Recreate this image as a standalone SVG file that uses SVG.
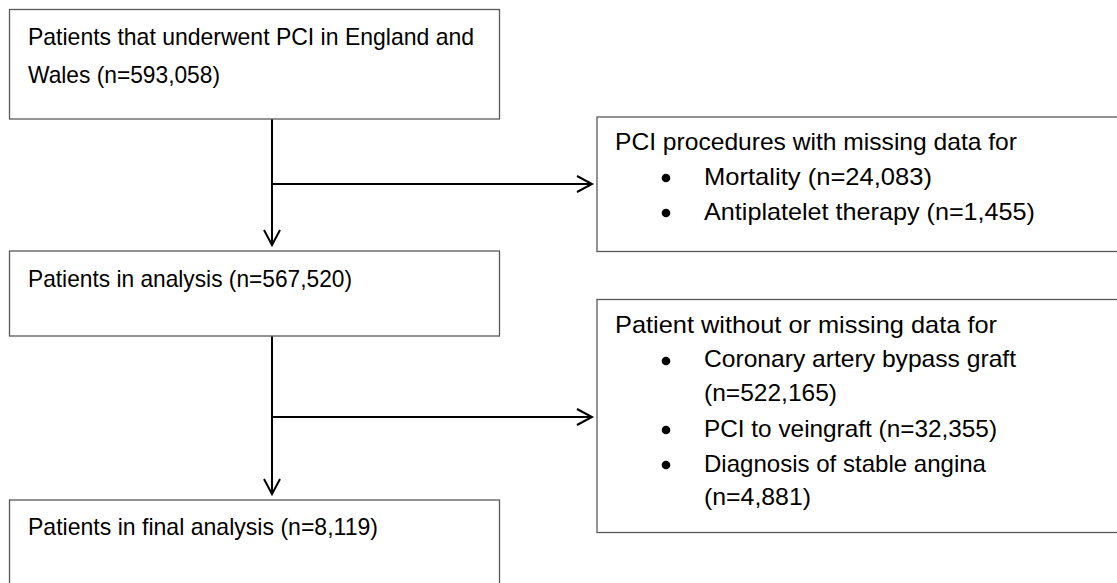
<svg xmlns="http://www.w3.org/2000/svg" width="1117" height="583" viewBox="0 0 1117 583">
<style>
.box{fill:#fff;stroke:#595959;stroke-width:1.3}
.t{font-family:"Liberation Sans",Arial,sans-serif;font-size:24px;fill:#000}
.ln{fill:none;stroke:#000;stroke-width:2}
.bul{fill:#000}
</style>
<defs>
<marker id="ah" markerUnits="userSpaceOnUse" markerWidth="20" markerHeight="20" viewBox="-17 -10 20 20" refX="0" refY="0" orient="auto">
<path d="M-15,-8 L0,0 L-15,8" fill="none" stroke="#000" stroke-width="2"/>
</marker>
</defs>
<rect width="1117" height="583" fill="#fff"/>
<g id="connectors">
<path class="ln" d="M272,119 V245" marker-end="url(#ah)"/>
<path class="ln" d="M272,184 H592" marker-end="url(#ah)"/>
<path class="ln" d="M272,336 V494" marker-end="url(#ah)"/>
<path class="ln" d="M272,417 H592" marker-end="url(#ah)"/>
</g>
<g id="n1">
<rect class="box" x="9.5" y="9.5" width="490" height="109.5"/>
<text class="t" x="28" y="45" textLength="446" lengthAdjust="spacingAndGlyphs">Patients that underwent PCI in England and</text>
<text class="t" x="28" y="83" textLength="192" lengthAdjust="spacingAndGlyphs">Wales (n=593,058)</text>
</g>
<g id="n2">
<rect class="box" x="597" y="117" width="525" height="134.5"/>
<text class="t" x="615" y="150" textLength="402" lengthAdjust="spacingAndGlyphs">PCI procedures with missing data for</text>
<circle class="bul" cx="666" cy="178" r="4.3"/>
<text class="t" x="704" y="185" textLength="228" lengthAdjust="spacingAndGlyphs">Mortality (n=24,083)</text>
<circle class="bul" cx="666" cy="213" r="4.3"/>
<text class="t" x="704" y="220" textLength="331" lengthAdjust="spacingAndGlyphs">Antiplatelet therapy (n=1,455)</text>
</g>
<g id="n3">
<rect class="box" x="9.5" y="251" width="490" height="85"/>
<text class="t" x="28" y="287" textLength="324" lengthAdjust="spacingAndGlyphs">Patients in analysis (n=567,520)</text>
</g>
<g id="n4">
<rect class="box" x="597" y="299.5" width="525" height="233"/>
<text class="t" x="615" y="333" textLength="382" lengthAdjust="spacingAndGlyphs">Patient without or missing data for</text>
<circle class="bul" cx="666" cy="361" r="4.3"/>
<text class="t" x="704" y="367" textLength="312" lengthAdjust="spacingAndGlyphs">Coronary artery bypass graft</text>
<text class="t" x="704" y="401" textLength="133" lengthAdjust="spacingAndGlyphs">(n=522,165)</text>
<circle class="bul" cx="666" cy="430" r="4.3"/>
<text class="t" x="704" y="437" textLength="293" lengthAdjust="spacingAndGlyphs">PCI to veingraft (n=32,355)</text>
<circle class="bul" cx="666" cy="465" r="4.3"/>
<text class="t" x="704" y="472" textLength="282" lengthAdjust="spacingAndGlyphs">Diagnosis of stable angina</text>
<text class="t" x="704" y="505" textLength="107" lengthAdjust="spacingAndGlyphs">(n=4,881)</text>
</g>
<g id="n5">
<rect class="box" x="9.5" y="500" width="490" height="100"/>
<text class="t" x="28" y="535" textLength="350" lengthAdjust="spacingAndGlyphs">Patients in final analysis (n=8,119)</text>
</g>
</svg>
